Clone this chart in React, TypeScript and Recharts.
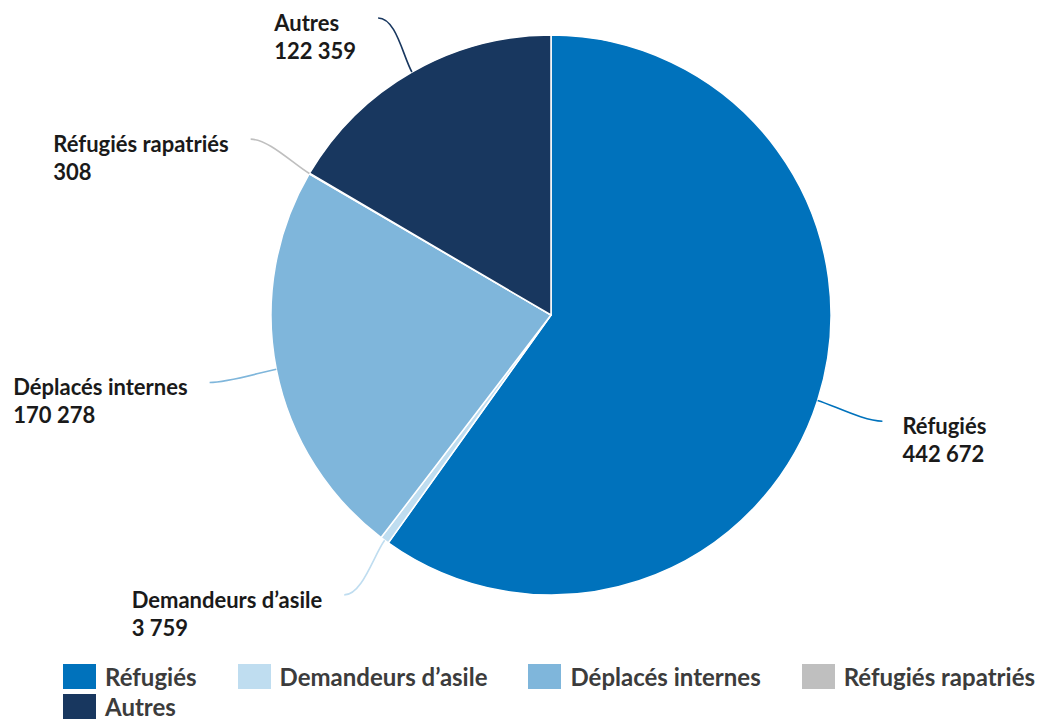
import React from "react";
import { PieChart, Pie, Cell, Legend } from "recharts";

const categories = [
  "Réfugiés",
  "Demandeurs d’asile",
  "Déplacés internes",
  "Réfugiés rapatriés",
  "Autres",
];
const values = [442672, 3759, 170278, 308, 122359];
const valueLabels = ["442 672", "3 759", "170 278", "308", "122 359"];
const colors = ["#0072BC", "#BFDDF0", "#7FB6DB", "#BFBFBF", "#18375F"];

const data = categories.map((name, i) => ({
  name,
  value: values[i],
  label: valueLabels[i],
  color: colors[i],
}));

const RADIAN = Math.PI / 180;
const LABEL_SIZE = 22;
const LABEL_FONT = `bold ${LABEL_SIZE}px Lato`;

let ctx: CanvasRenderingContext2D | null = null;
function measure(text: string) {
  if (!ctx) ctx = document.createElement("canvas").getContext("2d");
  if (!ctx) return text.length * 10;
  ctx.font = LABEL_FONT;
  return ctx.measureText(text).width;
}

function renderLabel(props: any) {
  const { cx, cy, midAngle, outerRadius, index } = props;
  const item = data[index];
  const cos = Math.cos(-midAngle * RADIAN);
  const sin = Math.sin(-midAngle * RADIAN);
  const sx = cx + outerRadius * cos;
  const sy = cy + outerRadius * sin;
  const ex = cx + (outerRadius + 68) * cos;
  // keep the top label inside the picture
  const ey = Math.max(cy + (outerRadius + 68) * sin, 18);
  const right = cos >= 0;
  const c1x = sx + 18 * cos;
  const c1y = sy + 18 * sin;
  const c2x = ex + (right ? -18 : 18);
  const c2y = ey;
  const blockW = Math.max(measure(item.name), measure(item.label));
  const tx = right ? ex + 20 : ex - 22 - blockW;
  const ty = ey + 13;
  return (
    <g key={`lbl-${index}`}>
      <path
        d={`M${sx},${sy} C${c1x},${c1y} ${c2x},${c2y} ${ex},${ey}`}
        stroke={item.color}
        strokeWidth={1.6}
        fill="none"
      />
      <text
        x={tx}
        y={ty}
        fill="#1a1a1a"
        fontFamily="Lato"
        fontWeight="bold"
        fontSize={LABEL_SIZE}
        textAnchor="start"
      >
        <tspan x={tx} y={ty}>
          {item.name}
        </tspan>
        <tspan x={tx} y={ty + 28}>
          {item.label}
        </tspan>
      </text>
    </g>
  );
}

function LegendContent() {
  return (
    <div
      style={{
        display: "flex",
        flexWrap: "wrap",
        columnGap: 41,
        rowGap: 5,
        fontFamily: "Lato",
        fontWeight: "bold",
        fontSize: 24,
        color: "#3c3c3c",
        lineHeight: "25px",
      }}
    >
      {categories.map((name, i) => (
        <div key={name} style={{ display: "flex", alignItems: "center" }}>
          <span
            style={{
              display: "inline-block",
              width: 33,
              height: 25,
              background: colors[i],
              marginRight: 9,
            }}
          />
          <span>{name}</span>
        </div>
      ))}
    </div>
  );
}

export default function App() {
  return (
    <div
      style={{
        position: "absolute",
        left: 0,
        top: 0,
        width: 1042,
        height: 720,
        background: "#fff",
        overflow: "hidden",
      }}
    >
      <PieChart
        width={1042}
        height={720}
        margin={{ top: 0, right: 0, bottom: 0, left: 0 }}
      >
        <Pie
          data={data}
          dataKey="value"
          nameKey="name"
          cx={551}
          cy={315}
          outerRadius={280}
          startAngle={90}
          endAngle={-270}
          stroke="#ffffff"
          strokeWidth={1.5}
          label={renderLabel}
          labelLine={false}
          isAnimationActive={false}
        >
          {data.map((d) => (
            <Cell key={d.name} fill={d.color} />
          ))}
        </Pie>
        <Legend
          layout="horizontal"
          verticalAlign="middle"
          content={() => <LegendContent />}
          wrapperStyle={{ left: 63, top: 664, width: 979, height: 60 }}
        />
      </PieChart>
    </div>
  );
}
